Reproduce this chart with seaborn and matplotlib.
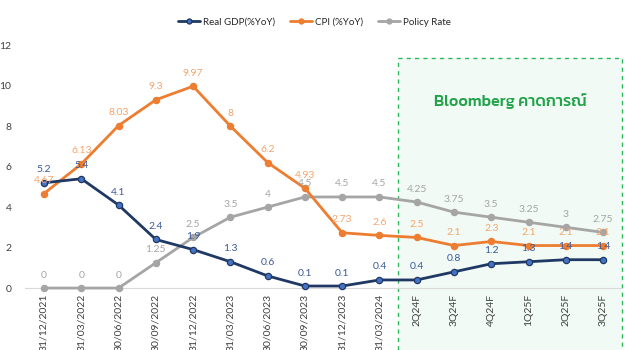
import matplotlib
matplotlib.use("Agg")
import matplotlib.pyplot as plt
import matplotlib.patches as mpatches
from matplotlib.lines import Line2D
import pandas as pd
import seaborn as sns

categories = [
    "31/12/2021", "31/03/2022", "30/06/2022", "30/09/2022", "31/12/2022",
    "31/03/2023", "30/06/2023", "30/09/2023", "31/12/2023", "31/03/2024",
    "2Q24F", "3Q24F", "4Q24F", "1Q25F", "2Q25F", "3Q25F",
]
gdp = [5.2, 5.4, 4.1, 2.4, 1.9, 1.3, 0.6, 0.1, 0.1, 0.4, 0.4, 0.8, 1.2, 1.3, 1.4, 1.4]
cpi = [4.67, 6.13, 8.03, 9.3, 9.97, 8, 6.2, 4.93, 2.73, 2.6, 2.5, 2.1, 2.3, 2.1, 2.1, 2.1]
policy = [0, 0, 0, 1.25, 2.5, 3.5, 4, 4.5, 4.5, 4.5, 4.25, 3.75, 3.5, 3.25, 3, 2.75]
series_names = ["Real GDP(%YoY)", "CPI (%YoY)", "Policy Rate"]
forecast_start = "2Q24F"

line_colors = {"Real GDP(%YoY)": "#1f3864", "CPI (%YoY)": "#ed7d31", "Policy Rate": "#a5a5a5"}
marker_faces = {"Real GDP(%YoY)": "#4472c4", "CPI (%YoY)": "#ed7d31", "Policy Rate": "#a5a5a5"}
label_colors = {"Real GDP(%YoY)": "#3b5a9a", "CPI (%YoY)": "#f4a46c", "Policy Rate": "#a5a5a5"}

sns.set_style("white")
plt.rcParams["font.family"] = ["Lato", "DejaVu Sans"]

df = pd.DataFrame({"period": categories, series_names[0]: gdp,
                   series_names[1]: cpi, series_names[2]: policy})
long = df.melt(id_vars="period", var_name="series", value_name="value")
long["x"] = long["period"].map({c: i for i, c in enumerate(categories)})

fig = plt.figure(figsize=(6.29, 3.5), dpi=100)
ax = fig.add_axes([0.0404, 0.177, 0.948, 0.694])

# forecast region box
fx = categories.index(forecast_start) - 0.5
box = mpatches.Rectangle((fx, -5), len(categories) - 0.5 - fx, 16.36,
                         facecolor="#f1faf5", edgecolor="#2eb85c", linestyle=(0, (3, 3)),
                         linewidth=1.0, clip_on=False, zorder=0)
ax.add_patch(box)
ax.text((fx + len(categories) - 0.5) / 2, 9.25, "Bloomberg คาดการณ์",
        family=["Kanit", "Prompt", "Noto Sans Thai", "Lato", "DejaVu Sans"],
        color="#22a34a", fontsize=11.5, fontweight="medium",
        ha="center", va="center", zorder=1)

# draw order: policy under, cpi, gdp on top
for name in [series_names[2], series_names[1], series_names[0]]:
    sub = long[long["series"] == name]
    sns.lineplot(data=sub, x="x", y="value", ax=ax, color=line_colors[name],
                 linewidth=2.0, marker="o", markersize=4.5,
                 markerfacecolor=marker_faces[name], markeredgecolor=line_colors[name],
                 markeredgewidth=0.9, clip_on=False, zorder=3, legend=False)
    for xv, yv in zip(sub["x"], sub["value"]):
        ax.text(xv, yv + 0.42, f"{yv:g}", color=label_colors[name], fontsize=7.5,
                ha="center", va="bottom", zorder=4)

ax.set_xlim(-0.5, len(categories) - 0.5)
ax.set_ylim(0, 12)
ax.set_xticks(range(len(categories)))
ax.set_xticklabels(categories, rotation=90, fontsize=7.5, color="#404040")
ax.set_yticks(range(0, 13, 2))
ax.tick_params(axis="y", labelsize=7.5, colors="#404040", length=0, pad=10)
ax.tick_params(axis="x", length=0, pad=4)
ax.set_xlabel("")
ax.set_ylabel("")
for side in ["top", "right", "left"]:
    ax.spines[side].set_visible(False)
ax.spines["bottom"].set_color("#d9d9d9")
ax.spines["bottom"].set_zorder(1)

handles = [Line2D([0], [0], color=line_colors[n], lw=2, marker="o", markersize=3.5,
                  markerfacecolor=marker_faces[n], markeredgecolor=line_colors[n])
           for n in series_names]
fig.legend(handles, series_names, loc="center", bbox_to_anchor=(0.5, 0.937), ncol=3,
           frameon=False, fontsize=7, handlelength=2.2, handletextpad=0.3, columnspacing=1.6)

fig.savefig("out.png", dpi=100, facecolor="white")
